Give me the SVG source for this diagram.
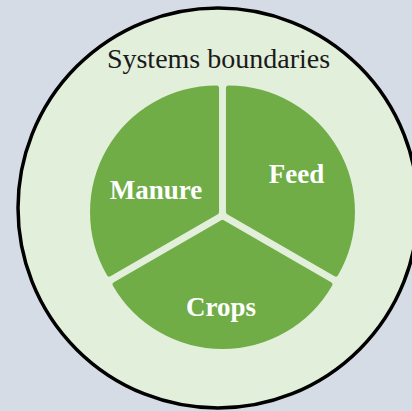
<svg xmlns="http://www.w3.org/2000/svg" width="412" height="411" viewBox="0 0 412 411">
  <style>
    .sector { fill: #70ad47; stroke: #70ad47; stroke-width: 5; stroke-linejoin: round; }
    .label { font-family: "Liberation Serif", "Times New Roman", serif; font-weight: bold; font-size: 27px; fill: #ffffff; text-anchor: middle; }
    .title { font-family: "Liberation Serif", "Times New Roman", serif; font-size: 28px; fill: #1a1a1a; text-anchor: middle; }
  </style>
  <rect x="0" y="0" width="412" height="411" fill="#d6dce5"/>
  <g id="boundary">
    <circle cx="218" cy="208" r="200" fill="#e2efda" stroke="#000000" stroke-width="3.5"/>
    <text class="title" x="218.5" y="68">Systems boundaries</text>
  </g>
  <g id="connectors"></g>
  <g id="feed">
    <path class="sector" d="M228.46,212.06 L228.46,88.06 A124,124 0 0 1 335.85,274.06 Z"/>
    <text class="label" x="296.5" y="183">Feed</text>
  </g>
  <g id="crops">
    <path class="sector" d="M222.5,222.38 L329.89,284.38 A124,124 0 0 1 115.11,284.38 Z"/>
    <text class="label" x="221" y="316">Crops</text>
  </g>
  <g id="manure">
    <path class="sector" d="M216.54,212.06 L109.15,274.06 A124,124 0 0 1 216.54,88.06 Z"/>
    <text class="label" x="156" y="199">Manure</text>
  </g>
</svg>
